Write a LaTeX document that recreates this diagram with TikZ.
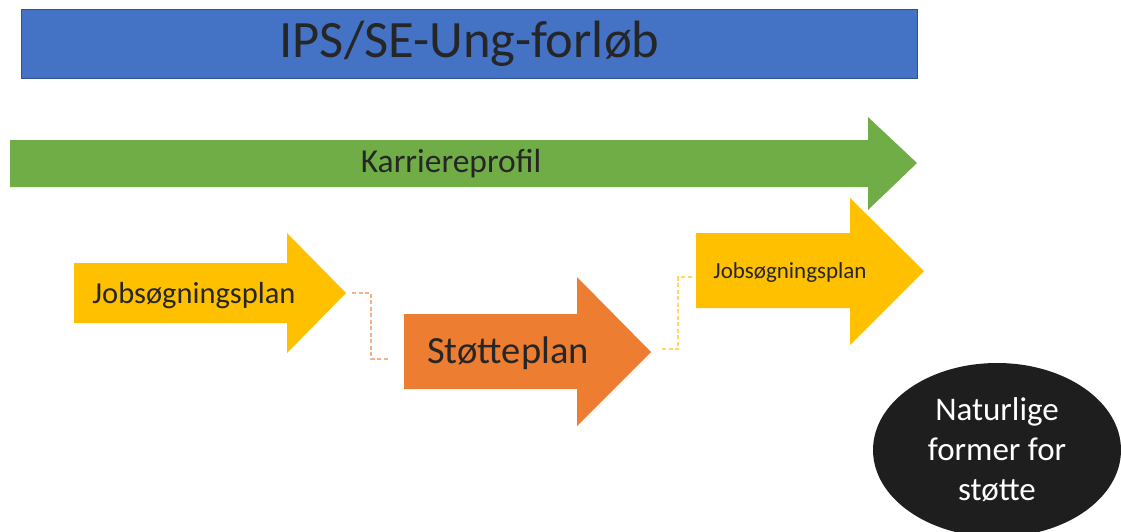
\documentclass[tikz,border=0pt]{standalone}
\usepackage{fontspec}
\setmainfont{Carlito}
\usetikzlibrary{shapes.geometric}
\definecolor{titleblue}{HTML}{4472C4}
\definecolor{titleborder}{HTML}{2F528F}
\definecolor{arrgreen}{HTML}{70AD47}
\definecolor{arryellow}{HTML}{FFC000}
\definecolor{arrorange}{HTML}{ED7D31}
\definecolor{connorange}{HTML}{F4B183}
\definecolor{connyellow}{HTML}{FFD966}
\definecolor{ovaldark}{HTML}{1E1E1E}
\definecolor{textdark}{HTML}{262626}
\tikzset{
  lbl/.style={inner sep=0pt, text=textdark},
  conn/.style={dashed, dash pattern=on 4pt off 2.5pt, line width=1.1pt},
  arrowshape/.style={draw=none}
}
\begin{document}
\begin{tikzpicture}[x=1pt,y=-1pt]
\useasboundingbox (0,0) rectangle (1121,531);
% title
\node[draw=titleborder, fill=titleblue, line width=1pt, minimum width=896pt, minimum height=69pt, anchor=north west, inner sep=0pt, text=textdark, font=\fontsize{52.5}{62}\selectfont] (title) at (21,9) {IPS/SE-Ung-forløb};
% second Jobsoegningsplan arrow (behind green)
\fill[arryellow] (696,233) -- (850,233) -- (850,198) -- (924,271) -- (850,345) -- (850,308) -- (696,308) -- cycle;
\coordinate (j2left) at (693,277);
\node[lbl, font=\fontsize{23}{27}\selectfont] (j2) at (790,272) {Jobsøgningsplan};
% green arrow
\fill[arrgreen] (10,140) -- (868,140) -- (868,117) -- (917,163) -- (868,210) -- (868,187) -- (10,187) -- cycle;
\node[lbl, font=\fontsize{33.5}{40}\selectfont] (kp) at (451,164) {Karriereprofil};
% first Jobsoegningsplan arrow
\fill[arryellow] (74,263) -- (287,263) -- (287,233) -- (346,293) -- (287,353) -- (287,323) -- (74,323) -- cycle;
\node[lbl, font=\fontsize{30.5}{36}\selectfont] (j1) at (194,296) {Jobsøgningsplan};
\coordinate (j1tip) at (352,293);
% Stoetteplan arrow
\fill[arrorange] (404,314) -- (577,314) -- (577,277) -- (651,352) -- (577,426) -- (577,389) -- (404,389) -- cycle;
\node[lbl, font=\fontsize{38.5}{46}\selectfont] (sp) at (508,353) {Støtteplan};
\coordinate (spleft) at (388,359);
\coordinate (sptip) at (662,349);
% connectors
\draw[conn, connorange] (j1tip) -- ++(19,0) |- (spleft);
\draw[conn, connyellow] (sptip) -- ++(16,0) |- (j2left);
% oval
\node[ellipse, fill=ovaldark, minimum width=248pt, minimum height=174pt, inner sep=0pt, text=white, align=center, font=\fontsize{33}{40}\selectfont] (nat) at (997,450) {Naturlige\\former for\\støtte};
\end{tikzpicture}
\end{document}
